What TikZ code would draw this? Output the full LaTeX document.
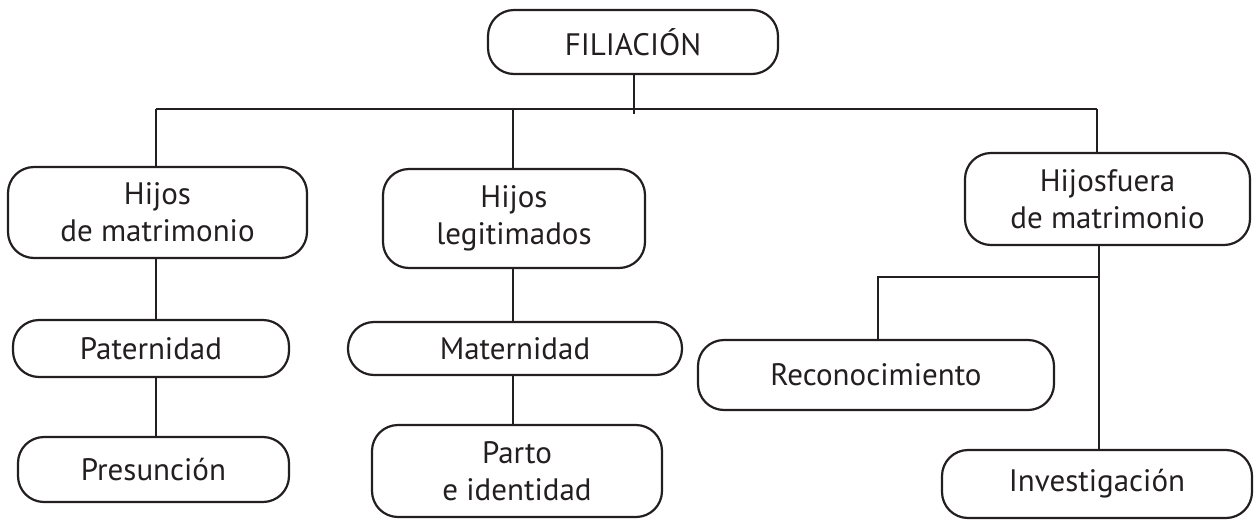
\documentclass[tikz,border=0pt]{standalone}
\usepackage{fontspec}
\setmainfont{PT Sans}
\usepackage{xcolor}
\usepackage{tikz}
\usetikzlibrary{calc}
\definecolor{tinta}{HTML}{231F20}

\begin{document}
\begin{tikzpicture}[x=1pt,y=-1pt,
  caja/.style={draw=tinta,line width=2.2pt,rounded corners=26pt,align=center,
    text=tinta,inner sep=0pt,font=\fontsize{31}{37}\selectfont},
  enlace/.style={draw=tinta,line width=2.2pt}]
\useasboundingbox (0,0) rectangle (1254,520);
% Boxes
\node[caja,minimum width=290pt,minimum height=64pt] (fil) at (633,42) {FILIACIÓN};
\node[caja,minimum width=299pt,minimum height=91pt] (hmat) at (157.5,212.5) {Hijos\\de matrimonio};
\node[caja,minimum width=262pt,minimum height=99pt] (hleg) at (514,218.5) {Hijos\\legitimados};
\node[caja,minimum width=285pt,minimum height=92pt] (hfue) at (1107.5,199) {Hijosfuera\\de matrimonio};
\node[caja,minimum width=276pt,minimum height=57pt] (pat) at (151,348.5) {Paternidad};
\node[caja,minimum width=334pt,minimum height=53pt] (mat) at (515,348.5) {Maternidad};
\node[caja,minimum width=271pt,minimum height=65pt] (pre) at (153.5,469.5) {Presunción};
\node[caja,minimum width=290pt,minimum height=92pt] (par) at (517,471) {Parto\\e identidad};
\node[caja,minimum width=356pt,minimum height=70pt] (rec) at (876,375) {Reconocimiento};
\node[caja,minimum width=310pt,minimum height=68pt] (inv) at (1097,484) {Investigación};
% Bar under the top box
\coordinate (barL) at (156,109);
\coordinate (barM) at (513,109);
\coordinate (barR) at (1097,109);
\coordinate (tick) at (634,114);
\draw[enlace] (fil.south -| tick) -- (tick);
\draw[enlace] (barL) -- (barR);
\draw[enlace] (barL) -- (barL |- hmat.north);
\draw[enlace] (barM) -- (barM |- hleg.north);
\draw[enlace] (barR) -- (barR |- hfue.north);
% Left column
\draw[enlace] (barL |- hmat.south) -- (barL |- pat.north);
\draw[enlace] (barL |- pat.south) -- (barL |- pre.north);
% Middle column
\draw[enlace] (barM |- hleg.south) -- (barM |- mat.north);
\draw[enlace] (barM |- mat.south) -- (barM |- par.north);
% Right branch
\coordinate (rama) at (1099,277);
\coordinate (ramaL) at (878,277);
\draw[enlace] (rama |- hfue.south) -- (rama |- inv.north);
\draw[enlace] (rama) -- (ramaL) -- (ramaL |- rec.north);
\end{tikzpicture}
\end{document}
